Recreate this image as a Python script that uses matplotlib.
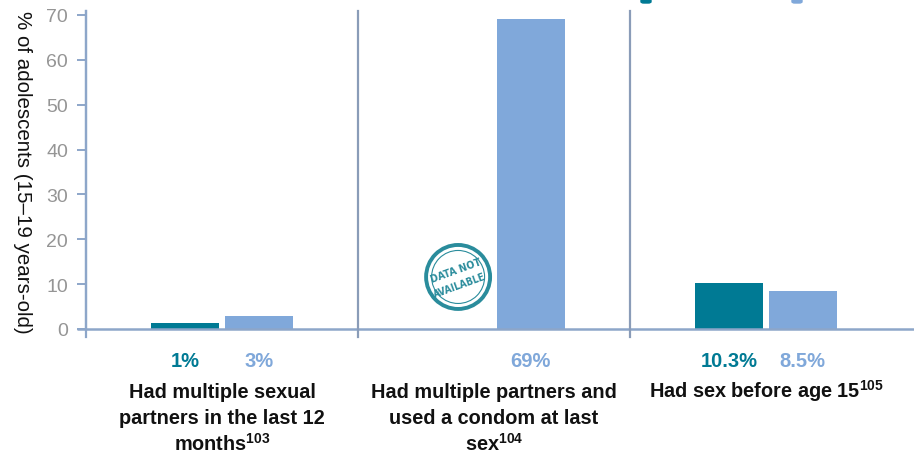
import matplotlib
matplotlib.use("Agg")
import matplotlib.pyplot as plt
import matplotlib.patches as mpatches
import matplotlib.transforms as mtransforms

# ---- data ----
categories = [
    ["Had multiple sexual", "partners in the last 12", "months$^{103}$"],
    ["Had multiple partners and", "used a condom at last", "sex$^{104}$"],
    ["Had sex before age 15$^{105}$"],
]
dark_values = [1.3, None, 10.3]
light_values = [3.0, 69.0, 8.5]
dark_labels = ["1%", "", "10.3%"]
light_labels = ["3%", "69%", "8.5%"]
yticks = [0, 10, 20, 30, 40, 50, 60, 70]
ylabel = "% of adolescents (15\u201319 years-old)"

DARK = "#007A94"
LIGHT = "#80A8DA"
AXC = "#8DA6C9"
SEP = "#8A9CB8"
STAMP = "#2A8C9C"

plt.rcParams["mathtext.fontset"] = "custom"
plt.rcParams["mathtext.rm"] = "Liberation Sans:bold"
plt.rcParams["mathtext.default"] = "rm"

fig = plt.figure(figsize=(9.14, 4.56), dpi=100)
ax = fig.add_axes([77 / 914, 126 / 456, 837 / 914, 318.5 / 456])
ax.set_xlim(-0.533, 2.544)
ax.set_ylim(0, 71)

bw = 0.25
off = 0.135
for i in range(len(categories)):
    if dark_values[i] is not None:
        ax.bar(i - off, dark_values[i], width=bw, color=DARK, zorder=2)
    if light_values[i] is not None:
        ax.bar(i + off, light_values[i], width=bw, color=LIGHT, zorder=2)

for s in ["top", "right", "bottom"]:
    ax.spines[s].set_visible(False)
ax.spines["left"].set_position(("data", -0.5))
ax.spines["left"].set_color(AXC)
ax.spines["left"].set_linewidth(1.6)
ax.set_xticks([])
ax.set_yticks(yticks)
ax.tick_params(axis="y", length=6.5, width=1.4, color=AXC, pad=6.5,
               labelsize=14, labelcolor="#959595")
for lab in ax.get_yticklabels():
    lab.set_family("Liberation Sans")

# axis lines
ax.plot([-0.533, 2.544], [0, 0], color=AXC, lw=1.8, clip_on=False, zorder=3,
        solid_capstyle="butt")
ax.plot([-0.5, -0.5], [-1.8, 71], color=AXC, lw=1.6, clip_on=False, zorder=3)
for xs in [0.5, 1.5]:
    ax.plot([xs, xs], [-1.8, 71], color=SEP, lw=1.6, clip_on=False, zorder=3)

# y label
fig.text(22 / 914, 1 - 172 / 456, ylabel, rotation=270, ha="center", va="center",
         fontsize=14.8, family="Liberation Sans", color="#111111")

px = 4.486  # pixels per data unit in y


def ypx(p):
    return (330 - p) / px


# value labels
for i in range(len(categories)):
    if dark_labels[i]:
        ax.text(i - off, ypx(367), dark_labels[i], ha="center", va="baseline",
                fontsize=14.5, color=DARK, family="Liberation Sans",
                fontweight="bold", clip_on=False)
    if light_labels[i]:
        ax.text(i + off, ypx(367), light_labels[i], ha="center", va="baseline",
                fontsize=14.5, color=LIGHT, family="Liberation Sans",
                fontweight="bold", clip_on=False)

# category labels
for i, lines in enumerate(categories):
    for j, line in enumerate(lines):
        ax.text(i, ypx(398 + 26.5 * j), line, ha="center", va="baseline",
                fontsize=14.3, color="#111111", family="Liberation Sans",
                fontweight="bold", clip_on=False)

# "DATA NOT AVAILABLE" stamp
stamp_tr = fig.dpi_scale_trans + mtransforms.ScaledTranslation(0.868, 11.6, ax.transData)
ax.add_artist(mpatches.Circle((0, 0), 0.32, transform=stamp_tr, fill=False,
                              ec=STAMP, lw=2.8, clip_on=False))
ax.add_artist(mpatches.Circle((0, 0), 0.265, transform=stamp_tr, fill=False,
                              ec=STAMP, lw=0.8, clip_on=False))
ax.text(-0.02, 0.07, "DATA NOT", transform=stamp_tr, ha="center", va="center",
        rotation=20, fontsize=7.6, fontweight="bold", color=STAMP,
        family="DejaVu Sans", fontstretch="condensed", clip_on=False)
ax.text(0.02, -0.075, "AVAILABLE", transform=stamp_tr, ha="center", va="center",
        rotation=20, fontsize=7.2, fontweight="bold", color=STAMP,
        family="DejaVu Sans", fontstretch="condensed", clip_on=False)

# cut-off legend markers at the very top
fig.patches.append(mpatches.FancyBboxPatch((641 / 914, 1 - 4 / 456), 10 / 914, 8 / 456,
                   boxstyle="round,pad=0,rounding_size=0.003", transform=fig.transFigure,
                   color=DARK, figure=fig))
fig.patches.append(mpatches.FancyBboxPatch((792 / 914, 1 - 4 / 456), 10 / 914, 8 / 456,
                   boxstyle="round,pad=0,rounding_size=0.003", transform=fig.transFigure,
                   color=LIGHT, figure=fig))

fig.savefig("out.png", dpi=100)
